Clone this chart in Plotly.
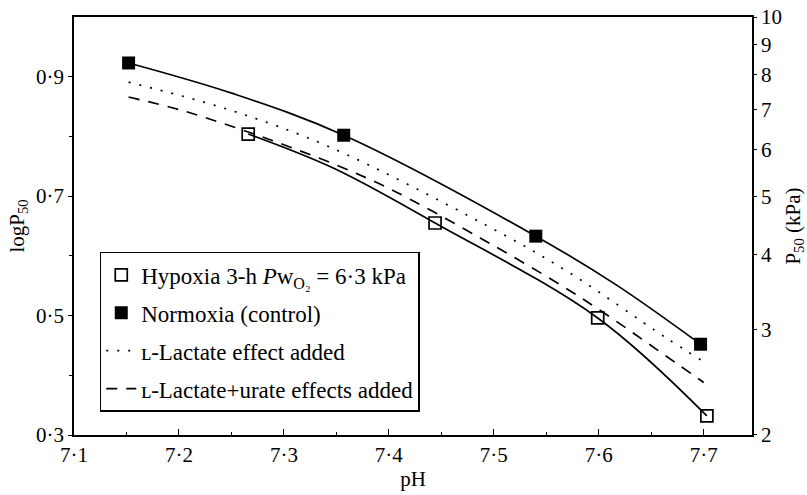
import plotly.graph_objects as go

# Measured points
ph_norm = [7.152, 7.357, 7.540, 7.697]
logp_norm = [0.923, 0.802, 0.633, 0.452]
ph_hyp = [7.266, 7.444, 7.599, 7.703]
logp_hyp = [0.804, 0.655, 0.496, 0.332]

# Fitted curves
curve_norm_ph = [7.152, 7.251, 7.357, 7.540, 7.617, 7.697]
curve_norm_logp = [0.923, 0.872, 0.802, 0.633, 0.551, 0.452]
curve_hyp_ph = [7.266, 7.347, 7.444, 7.599, 7.703]
curve_hyp_logp = [0.804, 0.747, 0.655, 0.496, 0.332]
lact_ph = [7.152, 7.249, 7.344, 7.493, 7.570, 7.663, 7.697]
lact_logp = [0.891, 0.844, 0.782, 0.651, 0.574, 0.464, 0.426]
urate_ph = [7.152, 7.200, 7.250, 7.300, 7.350, 7.400, 7.487, 7.582, 7.674, 7.700]
urate_logp = [0.866, 0.845, 0.817, 0.786, 0.752, 0.713, 0.630, 0.531, 0.420, 0.388]

x_ticks = [7.1, 7.2, 7.3, 7.4, 7.5, 7.6, 7.7]
x_ticklabels = ["7·1", "7·2", "7·3", "7·4", "7·5", "7·6", "7·7"]
y_ticks = [0.3, 0.5, 0.7, 0.9]
y_ticklabels = ["0·3", "0·5", "0·7", "0·9"]
p50_ticks = [2, 3, 4, 5, 6, 7, 8, 9, 10]

FONT = "Liberation Serif, Times New Roman, serif"
FS = 21
LFS = 23

fig = go.Figure()

# curves
fig.add_trace(go.Scatter(x=curve_norm_ph, y=curve_norm_logp, mode="lines",
                         line=dict(color="black", width=1.7, shape="spline"), showlegend=False))
fig.add_trace(go.Scatter(x=curve_hyp_ph, y=curve_hyp_logp, mode="lines",
                         line=dict(color="black", width=1.7, shape="spline"), showlegend=False))

# legend + marks
fig.add_trace(go.Scatter(x=ph_hyp, y=logp_hyp, mode="markers",
                         marker=dict(symbol="square-open", size=12, color="black", line=dict(width=1.7)),
                         name="Hypoxia 3-h <i>P</i>w<sub>O₂</sub> = 6·3 kPa", legendgroup="a"))
fig.add_trace(go.Scatter(x=ph_norm, y=logp_norm, mode="markers",
                         marker=dict(symbol="square", size=13, color="black"),
                         name="Normoxia (control)", legendgroup="b"))
fig.add_trace(go.Scatter(x=lact_ph, y=lact_logp, mode="lines",
                         line=dict(color="black", width=1.7, dash="2px,9px", shape="spline"),
                         name="ʟ-Lactate effect added", legendgroup="c"))
fig.add_trace(go.Scatter(x=urate_ph, y=urate_logp, mode="lines",
                         line=dict(color="black", width=1.7, dash="11px,9px", shape="spline"),
                         name="ʟ-Lactate+urate effects added", legendgroup="d"))

# dummy trace for right axis
fig.add_trace(go.Scatter(x=[None], y=[None], yaxis="y2", showlegend=False, hoverinfo="skip"))

fig.update_layout(
    width=807, height=495,
    margin=dict(l=74, r=55, t=17, b=60, autoexpand=False),
    paper_bgcolor="white", plot_bgcolor="white",
    font=dict(family=FONT, size=FS, color="black"),
    xaxis=dict(range=[7.1, 7.746], tickmode="array", tickvals=x_ticks, ticktext=x_ticklabels,
               ticks="inside", ticklen=6, tickwidth=1.2, tickcolor="black",
               minor=dict(tickvals=[7.15, 7.25, 7.35, 7.45, 7.55, 7.65], ticks="inside", ticklen=3, tickcolor="black"),
               showline=True, linecolor="black", linewidth=1.5, mirror=True,
               showgrid=False, zeroline=False, automargin=False,
               title=dict(text="pH", standoff=4, font=dict(size=FS))),
    yaxis=dict(range=[0.3, 1.0], tickmode="array", tickvals=y_ticks, ticktext=y_ticklabels,
               ticks="outside", ticklen=4, tickwidth=1.2, tickcolor="black",
               minor=dict(tickvals=[0.4, 0.6, 0.8], ticks="outside", ticklen=3, tickcolor="black"),
               showline=True, linecolor="black", linewidth=1.5, mirror=True,
               showgrid=False, zeroline=False, automargin=False,
               title=dict(text="logP<sub>50</sub>", standoff=6, font=dict(size=FS))),
    yaxis2=dict(overlaying="y", side="right", type="log", range=[0.3, 1.0],
                tickmode="array", tickvals=p50_ticks, ticktext=[str(v) for v in p50_ticks],
                ticks="outside", ticklen=3, tickwidth=1.2, tickcolor="black",
                showline=True, linecolor="black", linewidth=1.5,
                showgrid=False, zeroline=False, automargin=False,
                title=dict(text="P<sub>50</sub> (kPa)", standoff=4, font=dict(size=FS))),
    legend=dict(x=0.038, y=0.438, xanchor="left", yanchor="top",
                bordercolor="black", borderwidth=1.5, bgcolor="white",
                font=dict(family=FONT, size=LFS), tracegroupgap=5, itemwidth=30),
    showlegend=True,
)

fig.write_html("out.html")
